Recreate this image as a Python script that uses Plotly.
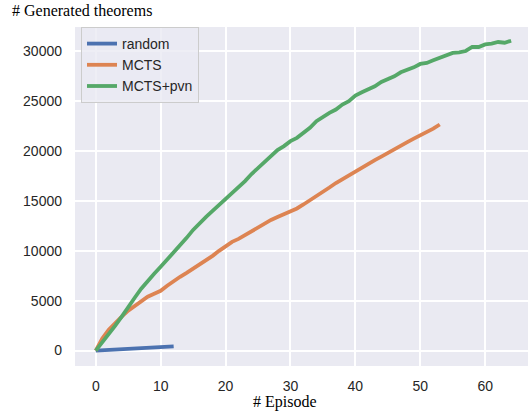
import plotly.graph_objects as go

episodes_random = list(range(0, 13))
random_vals = [0, 30, 60, 90, 120, 150, 190, 220, 260, 300, 340, 380, 420]

episodes_mcts = list(range(0, 54))
mcts_vals = [0, 1200, 2100, 2800, 3400, 4000, 4500, 5000, 5400, 5700,
             6000, 6500, 7000, 7400, 7800, 8200, 8600, 9000, 9500, 10000,
             10500, 10900, 11200, 11600, 12000, 12400, 12800, 13100, 13400, 13650,
             13900, 14250, 14650, 15050, 15500, 15940, 16350, 16800, 17200, 17600,
             18000, 18350, 18750, 19100, 19450, 19840, 20200, 20550, 20900, 21250,
             21570, 21900, 22250, 22670]

episodes_pvn = list(range(0, 65))
pvn_vals = [0, 800, 1600, 2500, 3400, 4400, 5300, 6200, 7000, 7700,
            8400, 9100, 9800, 10500, 11300, 12100, 12800, 13400, 14000, 14600,
            15200, 15700, 16300, 17000, 17700, 18300, 18800, 19500, 20100, 20500,
            21000, 21330, 21830, 22330, 23000, 23440, 23830, 24170, 24670, 25000,
            25570, 25900, 26170, 26500, 26940, 27170, 27500, 27900, 28100, 28400,
            28740, 28840, 29100, 29340, 29570, 29840, 29900, 30040, 30440, 30440,
            30700, 30770, 30940, 30870, 31070]

x_ticks = [0, 10, 20, 30, 40, 50, 60]
x_tick_labels = ["0", "10", "20", "30", "40", "50", "60"]
y_ticks = [0, 5000, 10000, 15000, 20000, 25000, 30000]
y_tick_labels = ["0", "5000", "10000", "15000", "20000", "25000", "30000"]

fig = go.Figure()
fig.add_trace(go.Scatter(x=episodes_random, y=random_vals, mode="lines", name="random",
                         line=dict(color="#4C72B0", width=3.8)))
fig.add_trace(go.Scatter(x=episodes_mcts, y=mcts_vals, mode="lines", name="MCTS",
                         line=dict(color="#DD8452", width=3.8)))
fig.add_trace(go.Scatter(x=episodes_pvn, y=pvn_vals, mode="lines", name="MCTS+pvn",
                         line=dict(color="#55A868", width=3.8)))

tickfont = dict(family="Liberation Sans, Arial, sans-serif", size=14, color="#262626")

W, H = 528, 419
ML, MR, MT, MB = 75, 0, 27, 53
PW, PH = W - ML - MR, H - MT - MB

fig.update_layout(
    width=W, height=H,
    margin=dict(l=ML, r=MR, t=MT, b=MB, autoexpand=False),
    paper_bgcolor="white",
    plot_bgcolor="#EAEAF2",
    showlegend=True,
    legend=dict(x=6/PW, y=1.0, xanchor="left", yanchor="top",
                bgcolor="rgba(234,234,242,0.8)", bordercolor="#CCCCCC", borderwidth=1,
                font=dict(family="Liberation Sans, Arial, sans-serif", size=14, color="#262626"),
                itemwidth=30, tracegroupgap=0),
    xaxis=dict(range=[-3.2, 66.6], tickvals=x_ticks, ticktext=x_tick_labels,
               showgrid=True, gridcolor="white", automargin=False,
               gridwidth=1.5, zeroline=False, showline=False, tickfont=tickfont,
               ticks="", ticklabelstandoff=10),
    yaxis=dict(range=[-1545, 32445], tickvals=y_ticks, ticktext=y_tick_labels,
               showgrid=True, gridcolor="white", automargin=False,
               gridwidth=1.5, zeroline=False, showline=False, tickfont=tickfont,
               ticks="", ticklabelstandoff=12),
    annotations=[
        dict(text="# Generated theorems", xref="paper", yref="paper",
             x=-(ML - 10)/PW, y=1 + 17/PH, xanchor="left", yanchor="middle", showarrow=False,
             font=dict(family="Liberation Serif, Times New Roman, serif", size=16, color="black")),
        dict(text="# Episode", xref="paper", yref="paper",
             x=(285 - ML)/PW, y=-36/PH, xanchor="center", yanchor="middle", showarrow=False,
             font=dict(family="Liberation Serif, Times New Roman, serif", size=16, color="black")),
    ],
)

fig.write_html("out.html", config={"displayModeBar": False},
               post_script="document.body.style.margin='0px';")
